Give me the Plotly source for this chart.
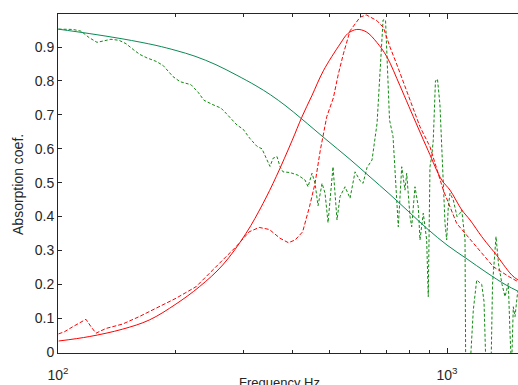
import plotly.graph_objects as go

# Measured (green dotted) absorption
freq_meas_g = [100.4, 104.8, 109.3, 114.6, 120.2, 126.0, 131.3, 136.8, 143.5, 149.6,
               156.0, 162.5, 169.4, 178.6, 186.2, 191.8, 197.5, 205.9, 213.3, 219.8,
               229.1, 237.3, 250.3, 262.4, 270.3, 276.8, 288.5, 299.0, 311.6, 324.8,
               334.5, 344.6, 350.8, 357.1, 365.6, 372.2, 378.8, 394.8, 414.0, 431.5,
               439.3, 449.8, 457.9, 466.1, 477.3, 485.8, 494.5, 509.3, 521.5, 530.9,
               546.9, 563.3, 580.3, 597.6, 608.4, 622.9, 641.6, 661.0, 672.8, 684.9,
               695.0, 703.1, 711.6, 726.5, 741.7, 749.6, 764.9, 779.8, 787.7, 803.3,
               811.4, 827.3, 843.6, 852.2, 869.0, 886.6, 895.0, 904.1, 913.3, 921.9,
               933.9, 945.1, 959.1, 968.9, 978.4, 988.3, 998.2, 1007.7, 1017.9, 1037.9,
               1061.0, 1080.0, 1091.0, 1112.5, 1117.1, 1145.8, 1168.4, 1192.1, 1228.0, 1244.8,
               1259.7, 1297.5, 1309.2, 1336.6, 1356.5, 1384.9, 1409.7, 1437.5, 1452.1, 1465.0,
               1480.6, 1495.7, 1520.0]
abs_meas_g = [0.953, 0.953, 0.952, 0.947, 0.928, 0.914, 0.918, 0.923, 0.920, 0.910,
              0.893, 0.878, 0.868, 0.858, 0.846, 0.828, 0.813, 0.798, 0.793, 0.789,
              0.767, 0.743, 0.730, 0.720, 0.705, 0.693, 0.670, 0.658, 0.630, 0.607,
              0.600, 0.567, 0.548, 0.572, 0.577, 0.547, 0.532, 0.530, 0.522, 0.508,
              0.488, 0.528, 0.498, 0.432, 0.498, 0.469, 0.382, 0.547, 0.390, 0.459,
              0.488, 0.454, 0.532, 0.506, 0.498, 0.545, 0.567, 0.675, 0.842, 0.980,
              0.980, 0.842, 0.685, 0.636, 0.470, 0.370, 0.547, 0.478, 0.528, 0.400,
              0.370, 0.488, 0.429, 0.331, 0.410, 0.331, 0.164, 0.547, 0.577, 0.625,
              0.800, 0.806, 0.730, 0.620, 0.535, 0.380, 0.331, 0.429, 0.469, 0.449,
              0.400, 0.410, 0.420, 0.331, -0.050, -0.050, 0.124, 0.213, 0.200, 0.150,
              -0.050, -0.050, 0.200, 0.341, 0.260, 0.200, 0.164, 0.203, 0.056, -0.050,
              0.134, 0.105, 0.180]

# Model (green solid)
freq_model_g = [100, 120.2, 146.9, 178.6, 201, 225, 254.7, 287, 322.7, 352, 385.6,
                423.3, 485.8, 563, 634, 709, 798, 894, 1000, 1126, 1260, 1419, 1522]
abs_model_g = [0.953, 0.940, 0.924, 0.905, 0.890, 0.873, 0.848, 0.818, 0.786, 0.759, 0.726,
               0.688, 0.630, 0.569, 0.517, 0.468, 0.414, 0.362, 0.316, 0.275, 0.236, 0.198, 0.180]

# Measured (red dashed)
freq_meas_r = [100.3, 103.8, 109.1, 114.6, 118.0, 121.6, 125.2, 132.8, 146.6, 161.8,
               178.6, 201.0, 226.3, 254.8, 286.8, 310.0, 329.0, 349.4, 372.2, 391.0,
               407.0, 425.5, 443.3, 457.9, 472.4, 490.9, 510.3, 525.5, 541.5, 563.3,
               597.6, 620.0, 660.4, 686.0, 713.6, 742.3, 803.3, 852.2, 904.1, 978.4,
               1058.8, 1192.1, 1315.7, 1452.1, 1522]
abs_meas_r = [0.054, 0.060, 0.075, 0.090, 0.097, 0.075, 0.056, 0.070, 0.083, 0.105,
              0.129, 0.159, 0.193, 0.252, 0.311, 0.355, 0.368, 0.362, 0.336, 0.323,
              0.331, 0.355, 0.430, 0.498, 0.596, 0.695, 0.750, 0.820, 0.880, 0.948,
              0.988, 0.995, 0.978, 0.958, 0.900, 0.850, 0.744, 0.665, 0.606, 0.478,
              0.380, 0.311, 0.252, 0.221, 0.208]

# Model (red solid)
freq_model_r = [100.4, 120.3, 146.6, 171.7, 201, 230.9, 265, 304.5, 336.3, 363.9,
                400, 423.3, 450, 481, 530.9, 556, 586, 620, 660, 700, 757,
                798, 894, 969, 1018, 1091, 1146, 1228, 1290, 1329, 1466, 1522]
abs_model_r = [0.033, 0.046, 0.068, 0.095, 0.142, 0.193, 0.257, 0.351, 0.438, 0.518,
               0.625, 0.693, 0.758, 0.830, 0.909, 0.940, 0.952, 0.945, 0.914,
               0.872, 0.786, 0.725, 0.595, 0.508, 0.478, 0.420, 0.390, 0.341, 0.310,
               0.292, 0.228, 0.213]

y_ticks = [0, 0.1, 0.2, 0.3, 0.4, 0.5, 0.6, 0.7, 0.8, 0.9]
y_ticktext = ["0", "0.1", "0.2", "0.3", "0.4", "0.5", "0.6", "0.7", "0.8", "0.9"]
x_ticks = [100, 1000]
x_ticktext = ["10<sup>2</sup>", "10<sup>3</sup>"]
x_minor = [200, 300, 400, 500, 600, 700, 800, 900]

axis_col = "#262626"
font = "Liberation Sans, Arial, sans-serif"

fig = go.Figure()
fig.add_trace(go.Scatter(x=freq_meas_g, y=abs_meas_g, mode="lines",
                         line=dict(color="#108a10", width=1, dash="3px,2px")))
fig.add_trace(go.Scatter(x=freq_model_g, y=abs_model_g, mode="lines",
                         line=dict(color="#0a8a55", width=1, shape="spline")))
fig.add_trace(go.Scatter(x=freq_meas_r, y=abs_meas_r, mode="lines",
                         line=dict(color="#ff0000", width=1, dash="4px,2px")))
fig.add_trace(go.Scatter(x=freq_model_r, y=abs_model_r, mode="lines",
                         line=dict(color="#ff0000", width=1, shape="spline")))

fig.update_layout(
    width=518, height=385,
    margin=dict(l=58, r=0, t=14, b=32),
    paper_bgcolor="white", plot_bgcolor="white",
    showlegend=False,
    font=dict(family=font, size=14, color=axis_col),
    xaxis=dict(type="log", range=[2, 3.1825], showgrid=False, zeroline=False,
               showline=True, linecolor=axis_col, linewidth=1, mirror="ticks",
               ticks="inside", ticklen=5, tickcolor=axis_col,
               tickvals=x_ticks, ticktext=x_ticktext, ticklabelstandoff=9,
               minor=dict(tickvals=x_minor, ticks="inside", ticklen=3, tickcolor=axis_col),
               tickfont=dict(size=14)),
    yaxis=dict(range=[-0.0024, 0.9976], showgrid=False, zeroline=False,
               showline=True, linecolor=axis_col, linewidth=1, mirror=False,
               ticks="inside", ticklen=4, tickcolor=axis_col,
               tickvals=y_ticks, ticktext=y_ticktext, tickfont=dict(size=14)),
    annotations=[
        dict(text="Frequency Hz", xref="paper", yref="paper", x=0.4826, y=-0.058,
             xanchor="center", yanchor="top", showarrow=False, font=dict(size=13)),
        dict(text="Absorption coef.", xref="paper", yref="paper", x=-0.087, y=0.4985,
             xanchor="center", yanchor="middle", textangle=-90, showarrow=False,
             font=dict(size=14)),
    ],
)

fig.write_html("out.html", config={"displayModeBar": False},
               post_script="document.body.style.margin='0px';document.body.style.overflow='hidden';")
